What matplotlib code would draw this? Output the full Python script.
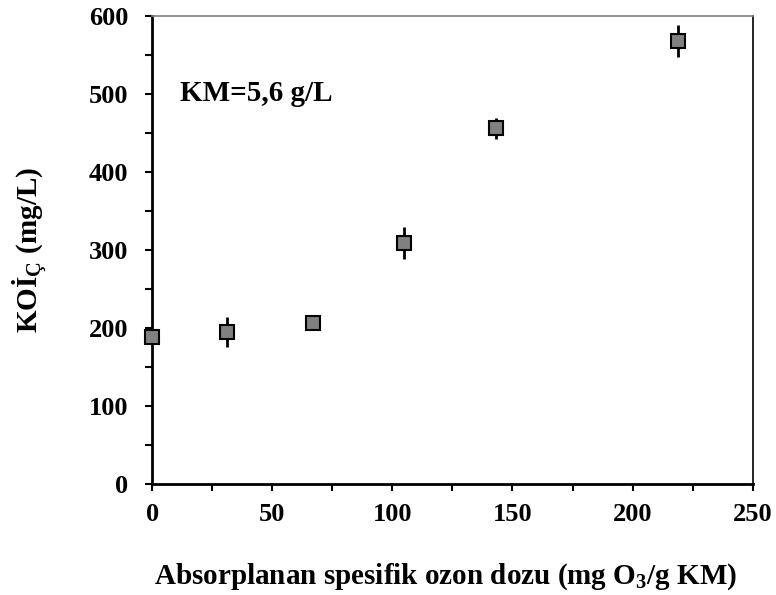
import matplotlib
matplotlib.use("Agg")
import matplotlib.pyplot as plt
from matplotlib.ticker import MultipleLocator

# data
dose = [0, 31, 67, 105, 143, 219]
cod = [189, 195, 207, 309, 456, 568]
cod_err = [3, 19, 4, 21, 13, 21]

plt.rcParams["font.family"] = ["Liberation Serif", "DejaVu Serif"]
plt.rcParams["font.weight"] = "bold"
plt.rcParams["mathtext.fontset"] = "custom"
plt.rcParams["mathtext.rm"] = "Liberation Serif:bold"
plt.rcParams["mathtext.it"] = "Liberation Serif:bold"
plt.rcParams["mathtext.bf"] = "Liberation Serif:bold"

fig = plt.figure(figsize=(7.76, 5.95), dpi=100)
ax = fig.add_axes([0.196, 0.1866, 0.774, 0.7864])

ax.errorbar(dose, cod, yerr=cod_err, fmt="s", ms=10, mfc="#808080",
            mec="black", mew=1.5, ecolor="black", elinewidth=2,
            capsize=0, zorder=3, clip_on=False)

ax.set_xlim(0, 250)
ax.set_ylim(0, 600)
ax.xaxis.set_major_locator(MultipleLocator(50))
ax.xaxis.set_minor_locator(MultipleLocator(25))
ax.yaxis.set_major_locator(MultipleLocator(100))
ax.yaxis.set_minor_locator(MultipleLocator(50))
ax.tick_params(which="both", direction="out", length=5, width=1.5,
               labelsize=19, color="black")
ax.tick_params(axis="x", pad=9)
ax.tick_params(axis="y", pad=12)
for lab in ax.get_xticklabels() + ax.get_yticklabels():
    lab.set_fontweight("bold")

ax.spines["left"].set_linewidth(2)
ax.spines["bottom"].set_linewidth(2)
ax.spines["right"].set_linewidth(1.2)
ax.spines["top"].set_linewidth(1.2)
ax.spines["top"].set_color("#808080")

ax.set_xlabel("Absorplanan spesifik ozon dozu (mg O$_3$/g KM)",
              fontsize=21, fontweight="bold", labelpad=25)
ax.xaxis.label.set_x(0.488)
ax.set_ylabel("KOİ$_{\\mathrm{Ç}}$ (mg/L)", fontsize=21,
              fontweight="bold", labelpad=28)

ax.text(11.5, 501, "KM=5,6 g/L", fontsize=21, fontweight="bold",
        ha="left", va="center")

fig.savefig("out.png", dpi=100)
